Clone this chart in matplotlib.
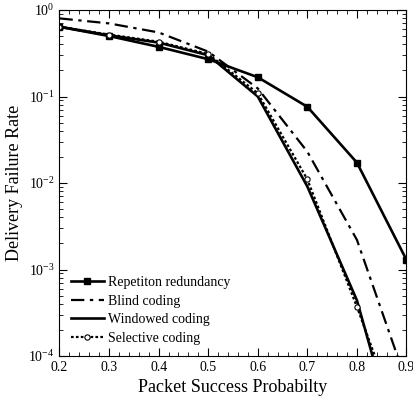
import matplotlib
matplotlib.use("Agg")
import matplotlib.pyplot as plt
import numpy as np
from matplotlib.ticker import MultipleLocator, LogLocator, NullFormatter, FormatStrFormatter

plt.rcParams['font.family'] = ['Liberation Serif', 'DejaVu Serif']
plt.rcParams['mathtext.fontset'] = 'stix'

# packet success probability
p = [0.2, 0.3, 0.4, 0.5, 0.6, 0.7, 0.8, 0.9]

# delivery failure rate per scheme
repetition = [0.64, 0.50, 0.375, 0.27, 0.167, 0.076, 0.0172, 0.00129]
blind = [0.80, 0.70, 0.55, 0.33, 0.124, 0.023, 0.0022, 0.00005]
windowed = [0.64, 0.51, 0.42, 0.30, 0.10, 0.0091, 0.00044, 0.000004]
selective = [0.64, 0.52, 0.43, 0.31, 0.109, 0.011, 0.00037, 0.00001]

fig = plt.figure(figsize=(4.14, 4.08), dpi=100)
ax = fig.add_axes([59.5 / 414, 1 - 356 / 408, 347 / 414, 346 / 408])

ax.plot(p, repetition, color='black', lw=1.9, marker='s', ms=5,
        label='Repetiton redundancy')
ax.plot(p, blind, color='black', lw=1.6, ls=(0, (6, 2.5, 1.5, 2.5)),
        label='Blind coding')
ax.plot(p, windowed, color='black', lw=1.9, label='Windowed coding')
ax.plot(p, selective, color='black', lw=1.6, ls=(0, (1.2, 1.0)),
        marker='o', ms=3.8, mfc='white', mec='black', mew=0.8,
        label='Selective coding')

ax.set_yscale('log')
ax.set_xlim(0.2, 0.9)
ax.set_ylim(1e-4, 1)
ax.xaxis.set_major_locator(MultipleLocator(0.1))
ax.xaxis.set_major_formatter(FormatStrFormatter('%.1f'))
ax.xaxis.set_minor_locator(MultipleLocator(0.02))
ax.yaxis.set_minor_locator(LogLocator(base=10, subs=np.arange(2, 10)))
ax.yaxis.set_minor_formatter(NullFormatter())
ax.tick_params(which='both', direction='in', top=True, right=True, labelsize=10)
ax.tick_params(which='major', length=6)
ax.tick_params(which='minor', length=3)

ax.set_xlabel('Packet Success Probabilty', fontsize=13)
ax.set_ylabel('Delivery Failure Rate', fontsize=13)

ax.legend(loc='lower left', frameon=False, fontsize=10, handlelength=2.4,
          handletextpad=0.3, labelspacing=0.4, borderaxespad=0.4)

fig.savefig('out.png', dpi=100)
